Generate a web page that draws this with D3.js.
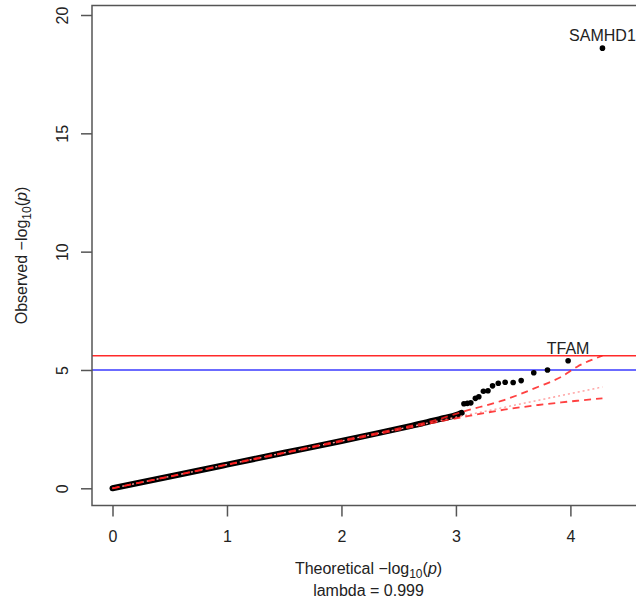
<!DOCTYPE html>
<html><head><meta charset="utf-8">
<script src="https://cdn.jsdelivr.net/npm/d3@7"></script>
<style>body{margin:0;background:#fff}svg{display:block}</style>
</head><body>
<script>
// ---- data ----
// dense part of the QQ curve (expected, observed)
const denseExpected = [0, 0.5, 1.0, 1.5, 2.0, 2.3, 2.6, 2.7, 2.8, 2.9, 3.0, 3.05];
const denseObserved = [0, 0.5, 1.0, 1.5, 2.0, 2.31, 2.63, 2.74, 2.86, 2.97, 3.09, 3.19];
// sparse tail points
const tailExpected = [3.07, 3.10, 3.13, 3.17, 3.20, 3.24, 3.28, 3.32, 3.37, 3.43, 3.50, 3.57, 3.68, 3.80, 3.98, 4.28];
const tailObserved = [3.57, 3.59, 3.61, 3.80, 3.87, 4.10, 4.12, 4.33, 4.44, 4.48, 4.47, 4.55, 4.88, 5.00, 5.39, 18.6];
const pointLabels = [{gene: "SAMHD1", idx: 15}, {gene: "TFAM", idx: 14}];
// confidence band
const bandX     = [0, 1, 2, 2.5, 2.8, 3.07, 3.42, 3.72, 3.92, 4.06, 4.28];
const bandUpper = [0, 1.01, 2.02, 2.53, 2.85, 3.25, 3.73, 4.29, 4.71, 5.14, 5.60];
const bandLower = [0, 0.99, 1.98, 2.47, 2.77, 3.02, 3.32, 3.52, 3.63, 3.70, 3.80];
const diagX = [0, 4.28];
// significance thresholds
const bonferroni = 5.6;
const suggestive = 5.0;
const xTicks = [0, 1, 2, 3, 4];
const yTicks = [0, 5, 10, 15, 20];
const lambdaText = "lambda = 0.999";

const W = 636, H = 606;
const box = {l: 92, t: 5.5, r: 645, b: 505.5};
const x = d3.scaleLinear().domain([0, 4]).range([112.5, 570.4]);
const y = d3.scaleLinear().domain([0, 20]).range([488.3, 15]);
const font = "'Liberation Sans', Arial, sans-serif";
const fs = 16;

const svg = d3.select("body").append("svg").attr("width", W).attr("height", H)
  .style("font-family", font);

svg.append("defs").append("clipPath").attr("id", "c")
  .append("rect").attr("x", box.l).attr("y", box.t).attr("width", box.r - box.l).attr("height", box.b - box.t);

const plot = svg.append("g").attr("clip-path", "url(#c)");

// threshold lines
plot.append("line").attr("x1", box.l).attr("x2", box.r).attr("y1", y(bonferroni)).attr("y2", y(bonferroni))
  .attr("stroke", "#ff2a2a").attr("stroke-width", 1.5);
plot.append("line").attr("x1", box.l).attr("x2", box.r).attr("y1", y(suggestive)).attr("y2", y(suggestive))
  .attr("stroke", "#3a3aff").attr("stroke-width", 1.5);

// dense points as a thick curve
const dense = denseExpected.map((d, i) => [d, denseObserved[i]]);
const line = d3.line().x(d => x(d[0])).y(d => y(d[1])).curve(d3.curveMonotoneX);
plot.append("path").datum(dense).attr("d", line).attr("fill", "none")
  .attr("stroke", "#000").attr("stroke-width", 6).attr("stroke-linecap", "round");

// tail points
const tail = tailExpected.map((d, i) => [d, tailObserved[i]]);
plot.selectAll("circle.p").data(tail).enter().append("circle").attr("class", "p")
  .attr("cx", d => x(d[0])).attr("cy", d => y(d[1])).attr("r", 2.8).attr("fill", "#000");

// diagonal (dotted)
plot.append("path").datum(diagX.map(v => [v, v])).attr("d", line).attr("fill", "none")
  .attr("stroke", "#ff9c9c").attr("stroke-width", 1.4).attr("stroke-dasharray", "2,3");

// band lines
const up = bandX.map((d, i) => [d, bandUpper[i]]);
const lo = bandX.map((d, i) => [d, bandLower[i]]);
[up, lo].forEach(arr => {
  plot.append("path").datum(arr).attr("d", line).attr("fill", "none")
    .attr("stroke", "#ff2020").attr("stroke-opacity", 0.85).attr("stroke-width", 1.8)
    .attr("stroke-dasharray", "7,5");
});

// labels for top genes
pointLabels.forEach(p => {
  svg.append("text").attr("x", x(tailExpected[p.idx])).attr("y", y(tailObserved[p.idx]) - 7)
    .attr("text-anchor", "middle").attr("font-size", fs).attr("fill", "#222").text(p.gene);
});

// box
svg.append("rect").attr("x", box.l).attr("y", box.t).attr("width", box.r - box.l).attr("height", box.b - box.t)
  .attr("fill", "none").attr("stroke", "#555").attr("stroke-width", 1.5);

// x axis
const xa = svg.append("g").attr("transform", `translate(0,${box.b})`)
  .call(d3.axisBottom(x).tickValues(xTicks).tickFormat(d3.format("d")).tickSize(11).tickSizeOuter(0));
xa.select(".domain").remove();
xa.selectAll("line").attr("stroke", "#555").attr("stroke-width", 1.5);
xa.selectAll("text").attr("font-size", fs).attr("font-family", font).attr("fill", "#222")
  .attr("y", 0).attr("dy", null).attr("transform", "translate(0,36)");

// y axis
const ya = svg.append("g").attr("transform", `translate(${box.l},0)`)
  .call(d3.axisLeft(y).tickValues(yTicks).tickFormat(d3.format("d")).tickSize(11).tickSizeOuter(0));
ya.select(".domain").remove();
ya.selectAll("line").attr("stroke", "#555").attr("stroke-width", 1.5);
ya.selectAll("text").attr("font-size", fs).attr("font-family", font).attr("fill", "#222")
  .attr("text-anchor", "middle").attr("x", null)
  .attr("transform", "translate(-29.5,0) rotate(-90)").attr("dy", "0.35em");

// axis titles
function logTitle(sel, prefix) {
  sel.append("tspan").text(prefix + "  \u2212log");
  sel.append("tspan").attr("font-size", 12).attr("dy", 4).text("10");
  sel.append("tspan").attr("dy", -4).text("(");
  sel.append("tspan").attr("font-style", "italic").text("p");
  sel.append("tspan").text(")");
}
const xt = svg.append("text").attr("x", (box.l + box.r) / 2).attr("y", 574)
  .attr("text-anchor", "middle").attr("font-size", fs).attr("fill", "#222");
logTitle(xt, "Theoretical");
svg.append("text").attr("x", (box.l + box.r) / 2).attr("y", 596).attr("text-anchor", "middle")
  .attr("font-size", fs).attr("fill", "#222").text(lambdaText);

const yt = svg.append("text").attr("transform", `translate(27,${(box.t + box.b) / 2}) rotate(-90)`)
  .attr("text-anchor", "middle").attr("font-size", fs).attr("fill", "#222");
logTitle(yt, "Observed");
</script>
</body></html>
